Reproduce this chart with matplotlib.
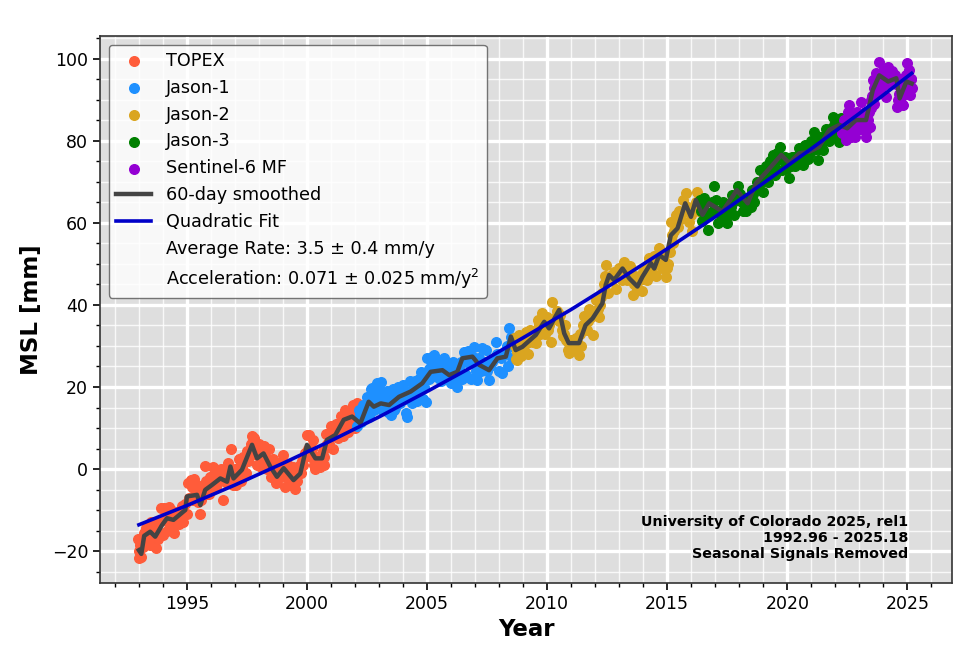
import matplotlib
matplotlib.use('Agg')
from matplotlib import pyplot as plt
from matplotlib.ticker import MultipleLocator

# Значения
topex_year = [1992.96, 1992.99, 1993.02, 1993.1, 1993.16, 1993.2, 1993.3, 1993.35, 1993.45, 1993.5, 1993.6, 1993.65, 1993.73, 1993.8, 1993.85, 1993.92, 1994.0, 1994.05, 1994.15, 1994.2, 1994.25, 1994.33, 1994.4, 1994.47, 1994.55, 1994.6, 1994.7, 1994.85, 1994.93, 1995.0, 1995.05, 1995.15, 1995.2, 1995.3, 1995.35, 1995.45, 1995.55, 1995.6, 1995.75, 1995.8, 1995.9, 1996.0, 1996.1, 1996.2, 1996.3, 1996.4, 1996.5, 1996.6, 1996.68, 1996.78, 1996.85, 1996.95, 1997.05, 1997.15, 1997.25, 1997.35, 1997.45, 1997.55, 1997.65, 1997.72, 1997.8, 1997.9, 1998.0, 1998.1, 1998.2, 1998.3, 1998.4, 1998.5, 1998.6, 1998.7, 1998.8, 1998.9, 1999.0, 1999.1, 1999.2, 1999.3, 1999.4, 1999.5, 1999.6, 1999.7, 1999.8, 1999.9, 2000.0, 2000.08, 2000.15, 2000.25, 2000.35, 2000.45, 2000.55, 2000.65, 2000.72, 2000.8, 2000.9, 2001.0, 2001.1, 2001.2, 2001.3, 2001.4, 2001.5, 2001.6, 2001.7, 2001.8, 2001.9, 2002.0, 2002.08]
topex_msl = [-17, -20, -21.7, -21.5, -19, -15.5, -14.5, -17.5, -18.5, -13, -13, -15, -19.2, -17, -13, -9.5, -16, -9.5, -15, -13, -9.2, -10, -14, -15.5, -11, -10.5, -12, -13, -8.5, -11, -3.5, -2.8, -4.5, -2.5, -5, -8, -11, -7.5, 0.7, -3, -6, -2, 0.5, -4.5, -1, 0, -7.5, -1, -3.5, -1, 4.8, -2, -4, 2.5, -3, 3, -1, 2, 6, 8, 7.5, 1, 6, 0.5, 5.5, 2.5, 5, -2, 2.5, -3.5, 0, -2, 3.5, -4.5, 1, -3.8, 0.5, -4.8, -3, 1, 2, 4, 8.2, 8.2, 3, 7, 0, 3, 0.5, 4.5, 1, 8.5, 6, 10.5, 5, 11, 7.5, 13, 8, 14.5, 9, 12.5, 15.5, 10, 16]
topex_extra = [(1993.05, -18.5), (1993.25, -17.5), (1993.4, -14), (1993.55, -16.5), (1993.7, -16.5), (1993.88, -15.5), (1994.08, -12), (1994.18, -11), (1994.3, -13.5), (1994.5, -11), (1994.65, -13.5), (1994.78, -9), (1994.88, -11), (1995.1, -7), (1995.25, -7.5), (1995.4, -4), (1995.5, -6.5), (1995.68, -5), (1995.85, -6), (1995.95, -2), (1996.05, -5), (1996.15, -1.5), (1996.25, -3.5), (1996.35, -3), (1996.45, -0.5), (1996.55, -3), (1996.73, 1.5), (1996.9, -4), (1997.0, 0), (1997.1, -2), (1997.2, 0.5), (1997.3, 0.5), (1997.4, 2), (1997.5, 4.5), (1997.6, 4), (1997.68, 3.5), (1997.76, 5), (1997.85, 4), (1997.95, 3.5), (1998.05, 4), (1998.15, 1.5), (1998.25, 5), (1998.35, 0), (1998.45, 2), (1998.55, -1), (1998.65, -0.5), (1998.75, -1.5), (1998.85, 1.5), (1998.95, -1), (1999.05, 1), (1999.15, -2), (1999.25, -1), (1999.35, -2), (1999.45, -2), (1999.55, -1), (1999.65, -1), (1999.75, -1), (1999.85, 1), (1999.95, 4), (2000.05, 5), (2000.2, 5), (2000.3, 1), (2000.4, 2), (2000.5, 2), (2000.6, 2), (2000.7, 3), (2000.85, 6), (2000.95, 8), (2001.05, 8), (2001.15, 9), (2001.25, 8), (2001.35, 10), (2001.45, 11), (2001.55, 11.5), (2001.65, 12), (2001.75, 11), (2001.85, 14), (2001.95, 12.5), (2002.03, 13)]

jason1_year = [2002.1, 2002.17, 2002.25, 2002.32, 2002.4, 2002.48, 2002.58, 2002.65, 2002.72, 2002.8, 2002.9, 2003.0, 2003.07, 2003.14, 2003.22, 2003.3, 2003.38, 2003.49, 2003.58, 2003.68, 2003.78, 2003.88, 2004.0, 2004.11, 2004.18, 2004.28, 2004.38, 2004.48, 2004.58, 2004.66, 2004.74, 2004.82, 2004.94, 2005.01, 2005.1, 2005.2, 2005.29, 2005.4, 2005.5, 2005.6, 2005.7, 2005.8, 2005.9, 2006.0, 2006.1, 2006.19, 2006.26, 2006.35, 2006.45, 2006.54, 2006.62, 2006.72, 2006.82, 2006.96, 2007.1, 2007.2, 2007.3, 2007.44, 2007.58, 2007.7, 2007.86, 2008.0, 2008.14, 2008.28, 2008.35, 2008.42, 2008.49, 2008.55]
jason1_msl = [10.5, 14.4, 11.5, 15.5, 12.5, 17.5, 12.8, 19.5, 19.7, 14.5, 21, 17, 21.3, 14.4, 18.5, 17, 14, 13.2, 19.5, 15, 20, 16, 20.5, 13.6, 12.8, 21.5, 16, 21.5, 16.5, 22, 23.7, 17, 16.4, 27, 22, 27.2, 27.8, 22.5, 26, 21.5, 27, 22, 25, 21, 26, 20.9, 20, 24.5, 22, 28.6, 23, 28.8, 22, 29.8, 21.7, 26, 29.5, 29, 21.7, 26, 31, 24, 23.3, 29, 25, 34.3, 32.3, 27]
jason1_extra = [(2002.15, 12.5), (2002.22, 13.5), (2002.35, 13.5), (2002.45, 15), (2002.52, 17), (2002.62, 16), (2002.7, 17.5), (2002.85, 18), (2002.95, 15), (2003.03, 19), (2003.1, 17), (2003.18, 16), (2003.26, 15.5), (2003.34, 19), (2003.44, 16), (2003.54, 17), (2003.62, 14.5), (2003.72, 18), (2003.83, 18.5), (2003.94, 17), (2004.05, 19), (2004.15, 17), (2004.24, 17), (2004.33, 19), (2004.44, 20), (2004.52, 19), (2004.62, 20), (2004.7, 19.5), (2004.78, 21), (2004.88, 20), (2004.98, 22), (2005.06, 24.5), (2005.15, 25), (2005.25, 24), (2005.35, 25), (2005.45, 24), (2005.55, 24), (2005.65, 26), (2005.75, 24), (2005.85, 23), (2005.95, 23), (2006.05, 24), (2006.15, 23), (2006.22, 25), (2006.3, 23), (2006.4, 26), (2006.5, 26), (2006.58, 27), (2006.67, 26), (2006.77, 26), (2006.88, 27), (2007.0, 27), (2007.05, 24), (2007.15, 27), (2007.25, 24), (2007.38, 26), (2007.5, 24), (2007.64, 25), (2007.78, 27), (2007.93, 28), (2008.07, 27), (2008.2, 28), (2008.32, 30), (2008.45, 30)]

jason2_year = [2008.62, 2008.7, 2008.76, 2008.83, 2008.92, 2009.0, 2009.1, 2009.2, 2009.3, 2009.4, 2009.53, 2009.6, 2009.7, 2009.8, 2009.9, 2010.0, 2010.08, 2010.15, 2010.22, 2010.35, 2010.45, 2010.55, 2010.65, 2010.75, 2010.85, 2010.92, 2011.0, 2011.1, 2011.2, 2011.33, 2011.42, 2011.54, 2011.65, 2011.75, 2011.89, 2012.03, 2012.15, 2012.25, 2012.35, 2012.44, 2012.55, 2012.7, 2012.85, 2013.0, 2013.1, 2013.2, 2013.32, 2013.45, 2013.56, 2013.65, 2013.75, 2013.85, 2013.95, 2014.05, 2014.15, 2014.25, 2014.35, 2014.46, 2014.55, 2014.67, 2014.8, 2014.94, 2015.05, 2015.15, 2015.25, 2015.36, 2015.5, 2015.64, 2015.78, 2015.92, 2016.05, 2016.15, 2016.26, 2016.33]
jason2_msl = [32, 26.8, 26.6, 32.7, 27.5, 29, 33.5, 28, 34, 31, 30.7, 36.3, 33, 38, 33, 37, 35, 31, 40.8, 37, 38, 37.5, 32.5, 35, 29, 28.2, 31.5, 29, 32, 27.8, 30, 37.2, 34, 39, 32.7, 41.2, 37, 42, 45, 49.8, 43, 46, 44, 49, 46, 50.6, 46, 49.5, 42.4, 47, 44, 46, 43.5, 48, 46, 51.5, 48, 52, 47, 54, 49, 46.9, 50, 60.3, 55, 62, 63, 65.6, 67.2, 60.3, 58, 64, 67.6, 63]
jason2_extra = [(2008.65, 30), (2008.73, 28.5), (2008.8, 30), (2008.88, 29), (2008.96, 31), (2009.05, 29), (2009.15, 31), (2009.25, 31), (2009.35, 32), (2009.46, 33), (2009.56, 33), (2009.65, 35), (2009.75, 35), (2009.85, 36), (2009.95, 35), (2010.04, 34), (2010.12, 36), (2010.28, 36.5), (2010.4, 38.5), (2010.5, 36), (2010.6, 34), (2010.7, 33), (2010.8, 31.5), (2010.88, 31), (2010.96, 30), (2011.05, 31), (2011.15, 30), (2011.26, 31), (2011.38, 33), (2011.48, 35), (2011.6, 36), (2011.7, 36), (2011.82, 37), (2011.96, 38), (2012.1, 39), (2012.2, 40), (2012.3, 43), (2012.4, 47), (2012.5, 46), (2012.62, 47), (2012.78, 48), (2012.92, 47), (2013.05, 48), (2013.15, 48), (2013.26, 48.5), (2013.38, 48), (2013.5, 47), (2013.6, 45), (2013.7, 45), (2013.8, 46), (2013.9, 47), (2014.0, 48), (2014.1, 49), (2014.2, 50), (2014.3, 50), (2014.4, 51), (2014.5, 50), (2014.6, 51), (2014.73, 52), (2014.87, 51), (2015.0, 49), (2015.1, 53), (2015.2, 57), (2015.3, 58), (2015.43, 59), (2015.57, 61), (2015.7, 63), (2015.85, 64), (2016.0, 62), (2016.1, 63), (2016.2, 65), (2016.3, 65)]

jason3_year = [2016.38, 2016.46, 2016.55, 2016.68, 2016.8, 2016.96, 2017.02, 2017.12, 2017.22, 2017.32, 2017.42, 2017.5, 2017.6, 2017.68, 2017.78, 2017.88, 2017.96, 2018.05, 2018.15, 2018.3, 2018.42, 2018.52, 2018.62, 2018.72, 2018.86, 2019.0, 2019.1, 2019.2, 2019.3, 2019.4, 2019.47, 2019.58, 2019.68, 2019.8, 2019.9, 2020.0, 2020.08, 2020.2, 2020.32, 2020.5, 2020.64, 2020.75, 2020.88, 2021.0, 2021.13, 2021.26, 2021.38, 2021.47, 2021.6, 2021.72, 2021.9, 2022.0, 2022.1, 2022.17, 2022.25]
jason3_msl = [65.5, 60.5, 66, 58.3, 62.5, 68.9, 65.6, 60, 60.7, 65, 62, 59.9, 64, 66.8, 62, 66, 68.9, 67, 63, 62.8, 66, 68, 65, 70, 72.9, 67.6, 74, 70, 75, 76.6, 71.7, 77, 78.6, 73, 76, 73.5, 70.9, 76, 74, 78.2, 74.1, 79, 75.5, 80, 82.3, 75.4, 81, 77.8, 83, 80, 85.9, 81, 85, 79.8, 85.5]
jason3_extra = [(2016.42, 63), (2016.5, 64), (2016.6, 62), (2016.72, 62), (2016.85, 65), (2016.9, 63), (2017.06, 63), (2017.16, 63), (2017.27, 62), (2017.37, 64), (2017.46, 62), (2017.55, 63), (2017.64, 64), (2017.73, 65), (2017.83, 66), (2017.92, 66), (2018.0, 66), (2018.1, 65), (2018.22, 64), (2018.36, 65), (2018.47, 64), (2018.57, 67), (2018.67, 68), (2018.78, 70), (2018.92, 70), (2019.05, 71), (2019.15, 72), (2019.25, 73), (2019.35, 73), (2019.44, 74), (2019.53, 75), (2019.63, 76), (2019.74, 76), (2019.85, 75), (2019.95, 75), (2020.04, 74), (2020.14, 74), (2020.26, 76), (2020.38, 76), (2020.46, 76), (2020.58, 76), (2020.7, 77), (2020.82, 77), (2020.94, 77), (2021.06, 78), (2021.2, 78), (2021.32, 78), (2021.42, 80), (2021.54, 80), (2021.66, 81), (2021.78, 83), (2021.84, 83), (2021.95, 84), (2022.05, 83), (2022.14, 83), (2022.22, 82)]

s6_year = [2022.3, 2022.38, 2022.44, 2022.52, 2022.58, 2022.66, 2022.74, 2022.82, 2022.92, 2023.06, 2023.14, 2023.22, 2023.28, 2023.36, 2023.44, 2023.5, 2023.56, 2023.63, 2023.7, 2023.76, 2023.83, 2023.92, 2024.0, 2024.1, 2024.18, 2024.28, 2024.38, 2024.48, 2024.58, 2024.65, 2024.72, 2024.8, 2024.88, 2024.94, 2025.0, 2025.05, 2025.1, 2025.14, 2025.18]
s6_msl = [81.9, 85, 80.2, 87, 88.8, 81, 86, 81, 87, 89.6, 83, 87, 81, 85, 83.5, 90, 94.9, 89, 96.5, 92, 99.3, 93, 97, 90.8, 98, 94, 97, 96, 88.4, 91.5, 95, 88.8, 92, 96, 98.9, 97.3, 91.2, 95, 93]
s6_extra = [(2022.34, 83), (2022.42, 82.5), (2022.48, 84), (2022.55, 84), (2022.62, 83), (2022.7, 83), (2022.78, 84), (2022.86, 85), (2022.97, 85), (2023.02, 83), (2023.1, 85), (2023.18, 85), (2023.25, 84), (2023.32, 83), (2023.4, 87), (2023.47, 88), (2023.53, 91), (2023.6, 93), (2023.66, 95), (2023.73, 95), (2023.8, 96), (2023.87, 95), (2023.96, 96), (2024.05, 94), (2024.14, 95), (2024.23, 94), (2024.33, 95), (2024.43, 95), (2024.53, 94), (2024.62, 90), (2024.68, 90), (2024.76, 91), (2024.84, 93), (2024.9, 94), (2024.97, 95), (2025.02, 94), (2025.08, 94), (2025.12, 93), (2025.16, 95)]

smooth_year = [1993.0, 1993.1, 1993.22, 1993.47, 1993.68, 1993.96, 1994.17, 1994.44, 1994.93, 1995.0, 1995.42, 1995.56, 1995.76, 1996.04, 1996.39, 1996.67, 1996.81, 1996.94, 1997.29, 1997.71, 1997.92, 1998.19, 1998.47, 1998.75, 1999.03, 1999.44, 1999.72, 2000.0, 2000.35, 2000.63, 2000.83, 2001.18, 2001.53, 2001.88, 2002.22, 2002.57, 2002.78, 2003.07, 2003.42, 2003.83, 2004.32, 2004.8, 2005.15, 2005.64, 2005.92, 2006.26, 2006.47, 2006.89, 2007.17, 2007.58, 2007.93, 2008.28, 2008.49, 2008.69, 2008.97, 2009.53, 2009.88, 2010.08, 2010.5, 2010.71, 2010.9, 2011.33, 2011.6, 2011.89, 2012.3, 2012.44, 2012.58, 2012.79, 2013.14, 2013.42, 2013.76, 2013.97, 2014.32, 2014.46, 2014.67, 2014.94, 2015.15, 2015.43, 2015.75, 2015.99, 2016.19, 2016.47, 2016.75, 2017.3, 2017.9, 2018.35, 2018.7, 2019.2, 2019.75, 2020.08, 2020.5, 2020.92, 2021.33, 2021.75, 2022.17, 2022.5, 2022.86, 2023.28, 2023.56, 2023.83, 2024.2, 2024.54, 2024.68, 2024.96, 2025.18]
smooth_msl = [-19.8, -20.7, -16.3, -15.3, -16.5, -13.7, -12.0, -12.4, -10.0, -6.7, -6.3, -8.8, -5.1, -3.9, -2.3, -3.1, 0.6, -2.3, -0.2, 5.9, 2.6, 3.8, 0.6, -1.9, 0.2, -2.7, -1.1, 5.9, 2.6, 2.6, 7.1, 8.3, 12.0, 12.8, 11.1, 16.4, 15.2, 16.0, 15.6, 17.6, 18.9, 20.9, 23.7, 24.1, 22.9, 23.7, 27.0, 27.4, 25.4, 24.1, 27.0, 27.4, 32.3, 29.0, 29.8, 32.7, 35.9, 34.3, 38.8, 33.1, 30.7, 30.7, 35.1, 36.7, 40.4, 44.9, 47.3, 46.1, 48.9, 46.5, 44.5, 46.9, 50.2, 48.9, 52.2, 51.0, 57.0, 58.7, 64.8, 61.5, 65.6, 62.0, 64.8, 62.8, 68.0, 64.8, 69.7, 72.9, 76.6, 74.6, 77.0, 77.4, 78.6, 82.7, 83.9, 83.1, 85.1, 85.1, 92.4, 96.0, 94.5, 95.3, 90.4, 94.5, 94.0]

fit_year = [1993, 1995, 1997, 1999, 2001, 2003, 2005, 2007, 2009, 2011, 2013, 2015, 2017, 2019, 2021, 2023, 2025.18]
fit_msl = [-13.6, -8.9, -3.9, 1.4, 6.9, 12.7, 18.9, 25.3, 32.0, 38.9, 46.2, 53.7, 61.5, 69.7, 78.1, 86.7, 96.5]

# Точки миссий: основной набор и дополнительные точки внутри полосы
def draw_mission(ax, years, values, extra, color, label):
    all_years = years + [p[0] for p in extra]
    all_values = values + [p[1] for p in extra]
    ax.scatter(all_years, all_values, s=48, color=color, label=label)

fig = plt.figure(figsize=(9.6, 6.54), dpi=100)
ax = fig.add_axes([100 / 960, 1 - 583 / 654, 852 / 960, 547 / 654])
ax.set_facecolor('#dedede')

# Сетка
ax.grid(True, which='major', color='white', linewidth=2.4)
ax.grid(True, which='minor', color='white', linewidth=1.0, alpha=0.8)
ax.set_axisbelow(True)

draw_mission(ax, topex_year, topex_msl, topex_extra, '#ff5c3a', 'TOPEX')
draw_mission(ax, jason1_year, jason1_msl, jason1_extra, 'dodgerblue', 'Jason-1')
draw_mission(ax, jason2_year, jason2_msl, jason2_extra, 'goldenrod', 'Jason-2')
draw_mission(ax, jason3_year, jason3_msl, jason3_extra, 'green', 'Jason-3')
draw_mission(ax, s6_year, s6_msl, s6_extra, 'darkviolet', 'Sentinel-6 MF')

# Кривые
ax.plot(smooth_year, smooth_msl, color='#444444', linewidth=3.2, label='60-day smoothed')
ax.plot(fit_year, fit_msl, color='#0000c8', linewidth=2.6, label='Quadratic Fit')
ax.plot([], [], ' ', label='Average Rate: 3.5 ± 0.4 mm/y')
ax.plot([], [], ' ', label='Acceleration: 0.071 ± 0.025 mm/y$^2$')

ax.set_xlim(1991.38, 2026.86)
ax.set_ylim(-27.8, 105.6)
ax.xaxis.set_major_locator(MultipleLocator(5))
ax.xaxis.set_minor_locator(MultipleLocator(1))
ax.yaxis.set_major_locator(MultipleLocator(20))
ax.yaxis.set_minor_locator(MultipleLocator(5))
ax.tick_params(which='major', labelsize=12.5, length=5, width=1.2)
ax.tick_params(which='minor', length=3, width=1)
for spine in ax.spines.values():
    spine.set_color('#333333')
    spine.set_linewidth(1.2)

ax.set_xlabel('Year', fontsize=16.5, fontweight='bold', labelpad=4)
ax.set_ylabel('MSL [mm]', fontsize=16.5, fontweight='bold', labelpad=6)

ax.legend(loc='upper left', fontsize=12.7, labelspacing=0.5, borderaxespad=0.5, framealpha=0.8, edgecolor='#555555', handletextpad=0.85)

fig.text(908 / 960, 1 - 522 / 654, 'University of Colorado 2025, rel1', ha='right', va='center', fontsize=10.3, fontweight='bold')
fig.text(908 / 960, 1 - 538 / 654, '1992.96 - 2025.18', ha='right', va='center', fontsize=10.3, fontweight='bold')
fig.text(908 / 960, 1 - 554 / 654, 'Seasonal Signals Removed', ha='right', va='center', fontsize=10.3, fontweight='bold')

fig.savefig('out.png', dpi=100)
